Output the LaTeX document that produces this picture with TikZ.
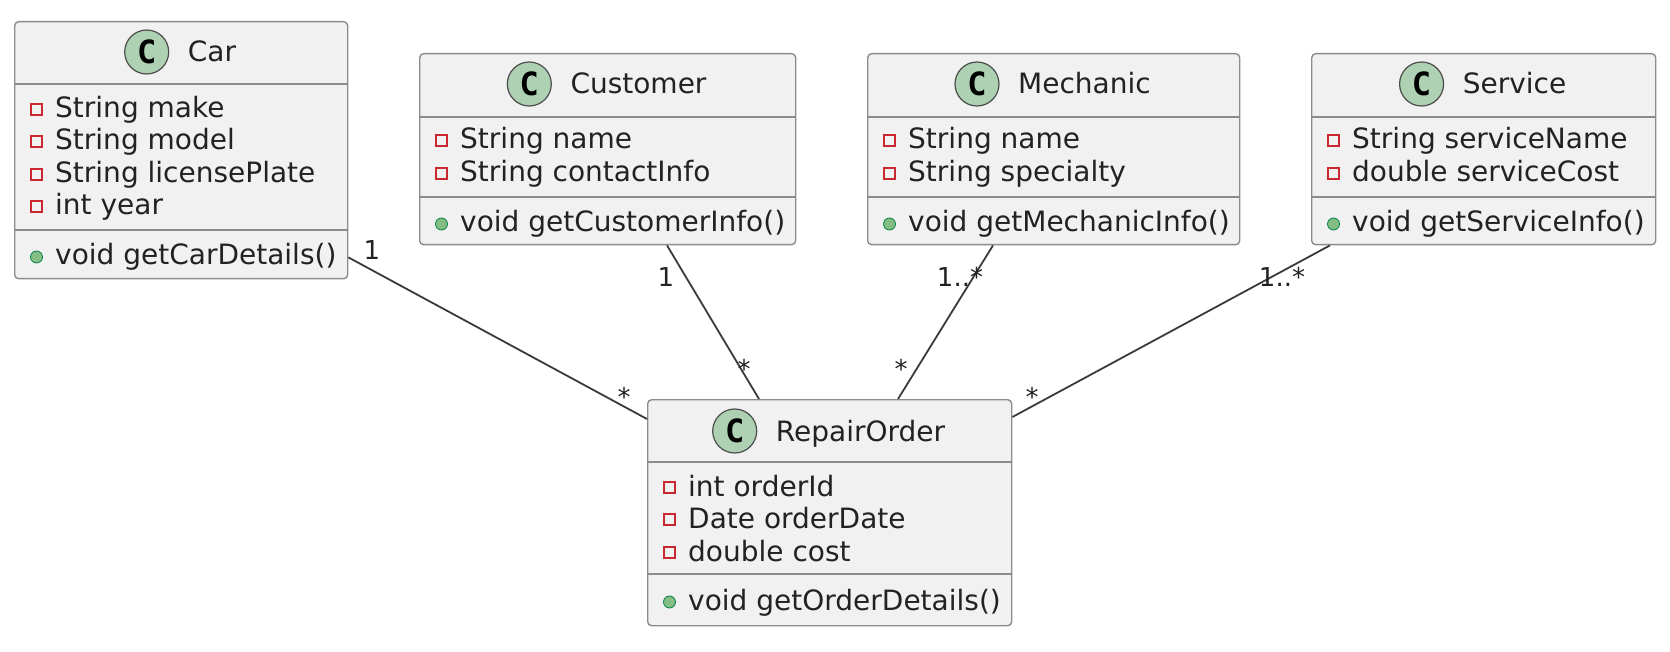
\documentclass[tikz,border=0pt]{standalone}
\usepackage{fontspec}
\setmainfont{DejaVu Sans}
\newfontfamily\badgefont{DejaVu Sans Mono}
\definecolor{boxfill}{HTML}{F1F1F1}
\definecolor{boxgray}{HTML}{8C8C8C}
\definecolor{badgegreen}{HTML}{ADD1B2}
\definecolor{privred}{HTML}{C82930}
\definecolor{pubgreen}{HTML}{84BE84}
\definecolor{pubdark}{HTML}{038048}
\definecolor{linegray}{HTML}{3A3A3A}
\definecolor{txt}{HTML}{222222}
\tikzset{
  cls/.style={rectangle, draw=boxgray, line width=1.4pt, fill=boxfill, rounded corners=4pt, inner sep=0pt, anchor=north west},
  ttl/.style={inner sep=0pt, anchor=base, text=txt, font=\fontsize{28}{32}\selectfont},
  mem/.style={inner sep=0pt, anchor=base west, text=txt, font=\fontsize{28}{32}\selectfont},
  badge/.style={circle, draw=black!70, line width=1.2pt, fill=badgegreen, minimum size=44pt, inner sep=0pt, font=\fontsize{32}{32}\selectfont\badgefont\bfseries},
  priv/.style={rectangle, draw=privred, line width=1.3pt, minimum size=11pt, inner sep=0pt},
  pub/.style={circle, draw=pubdark, fill=pubgreen, line width=0.8pt, minimum size=12pt, inner sep=0pt},
  card/.style={inner sep=0pt, anchor=base, text=txt, font=\fontsize{26}{30}\selectfont},
  assoc/.style={draw=linegray, line width=1.8pt},
  sepline/.style={draw=boxgray, line width=1.4pt}
}
\newcommand\umlattr[4]{%
  \node[mem] (#1) at (#2+41,#3) {#4};
  \node[priv] (#1i) at ([xshift=-18.5pt,yshift=8.5pt]#1.base west) {};}
\newcommand\umlmeth[4]{%
  \node[mem] (#1) at (#2+41,#3) {#4};
  \node[pub] (#1i) at ([xshift=-18.5pt,yshift=8pt]#1.base west) {};}
\newcommand\umltitle[4]{%
  \node[ttl] (#1) at (#2+31.5,#3) {#4};
  \node[badge] (#1b) at ([xshift=-41pt,yshift=10pt]#1.base west) {C};}
\begin{document}
\begin{tikzpicture}[x=1pt,y=-1pt]
\useasboundingbox (0,0) rectangle (1670,652);

% ---- Car ----
\node[cls, minimum width=333pt, minimum height=257pt] (car) at (14,21) {};
\draw[sepline] (car.west |- 0,84) -- (car.east |- 0,84);
\draw[sepline] (car.west |- 0,230) -- (car.east |- 0,230);
\umltitle{carT}{180.5}{62}{Car}
\umlattr{carA}{14}{118}{String make}
\umlattr{carB}{14}{150}{String model}
\umlattr{carC}{14}{183}{String licensePlate}
\umlattr{carD}{14}{215}{int year}
\umlmeth{carM}{14}{265}{void getCarDetails()}

% ---- Customer ----
\node[cls, minimum width=376pt, minimum height=191pt] (cust) at (419,53) {};
\draw[sepline] (cust.west |- 0,117) -- (cust.east |- 0,117);
\draw[sepline] (cust.west |- 0,197) -- (cust.east |- 0,197);
\umltitle{custT}{607}{94}{Customer}
\umlattr{custA}{419}{149}{String name}
\umlattr{custB}{419}{182}{String contactInfo}
\umlmeth{custM}{419}{232}{void getCustomerInfo()}

% ---- Mechanic ----
\node[cls, minimum width=372pt, minimum height=191pt] (mech) at (867,53) {};
\draw[sepline] (mech.west |- 0,117) -- (mech.east |- 0,117);
\draw[sepline] (mech.west |- 0,197) -- (mech.east |- 0,197);
\umltitle{mechT}{1053}{94}{Mechanic}
\umlattr{mechA}{867}{149}{String name}
\umlattr{mechB}{867}{182}{String specialty}
\umlmeth{mechM}{867}{232}{void getMechanicInfo()}

% ---- Service ----
\node[cls, minimum width=344pt, minimum height=191pt] (serv) at (1311,53) {};
\draw[sepline] (serv.west |- 0,117) -- (serv.east |- 0,117);
\draw[sepline] (serv.west |- 0,197) -- (serv.east |- 0,197);
\umltitle{servT}{1483}{94}{Service}
\umlattr{servA}{1311}{149}{String serviceName}
\umlattr{servB}{1311}{182}{double serviceCost}
\umlmeth{servM}{1311}{232}{void getServiceInfo()}

% ---- RepairOrder ----
\node[cls, minimum width=364pt, minimum height=226pt] (ro) at (647,399) {};
\draw[sepline] (ro.west |- 0,462) -- (ro.east |- 0,462);
\draw[sepline] (ro.west |- 0,574) -- (ro.east |- 0,574);
\umltitle{roT}{829}{441}{RepairOrder}
\umlattr{roA}{647}{496}{int orderId}
\umlattr{roB}{647}{528}{Date orderDate}
\umlattr{roC}{647}{561}{double cost}
\umlmeth{roM}{647}{610}{void getOrderDetails()}

% ---- associations ----
\draw[assoc] ([yshift=22pt]car.south east) -- ([yshift=-20pt]ro.north west);
\draw[assoc] ([xshift=248pt]cust.south west) -- ([xshift=112pt]ro.north west);
\draw[assoc] ([xshift=126pt]mech.south west) -- ([xshift=251pt]ro.north west);
\draw[assoc] ([xshift=19pt]serv.south west) -- ([yshift=-18pt]ro.north east);

% ---- multiplicities ----
\node[card] (l1) at (372,260) {1};
\node[card] (l2) at (624,406) {*};
\node[card] (l3) at (666,287) {1};
\node[card] (l4) at (744,378) {*};
\node[card] (l5) at (960,287) {1..*};
\node[card] (l6) at (901,378) {*};
\node[card] (l7) at (1282,287) {1..*};
\node[card] (l8) at (1032,406) {*};
\end{tikzpicture}
\end{document}
